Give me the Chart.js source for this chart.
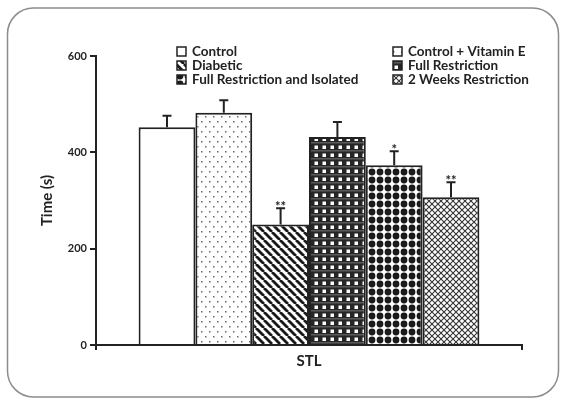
<!DOCTYPE html>
<html>
<head>
<meta charset="utf-8">
<script src="https://cdn.jsdelivr.net/npm/chart.js@4"></script>
<style>
  body { margin: 0; background: #fff; }
  #wrap { width: 564px; height: 400px; position: relative; }
</style>
</head>
<body>
<div id="wrap"><canvas id="myChart"></canvas></div>
<script>
const categories = ["STL"];
const groups = [
  "Control",
  "Control + Vitamin E",
  "Diabetic",
  "Full Restriction",
  "Full Restriction and Isolated",
  "2 Weeks Restriction",
];
const means = [452, 482, 250, 432, 373, 307];
const errors = [24, 26, 34, 31, 29, 31];
const marks = ["", "", "**", "", "*", "**"];
const yTicks = [0, 200, 400, 600];

const ink = "#222";

// small canvas tiles used as bar fills
function tile(w, h, draw) {
  const c = document.createElement("canvas");
  c.width = w;
  c.height = h;
  const g = c.getContext("2d");
  draw(g, w, h);
  return g.createPattern(c, "repeat");
}

const fills = [
  "#ffffff",
  tile(8, 10, (g) => {
    g.fillStyle = "#fff";
    g.fillRect(0, 0, 8, 10);
    g.fillStyle = "#6a6a6a";
    g.fillRect(1, 1, 1.5, 1.5);
    g.fillRect(5, 6, 1.5, 1.5);
  }),
  tile(8, 8, (g) => {
    g.fillStyle = "#fff";
    g.fillRect(0, 0, 8, 8);
    g.strokeStyle = "#1a1a1a";
    g.lineWidth = 2.8;
    for (let k = -8; k <= 16; k += 8) {
      g.beginPath();
      g.moveTo(k, 0);
      g.lineTo(k + 8, 8);
      g.stroke();
    }
  }),
  tile(8, 8, (g) => {
    g.fillStyle = "#262626";
    g.fillRect(0, 0, 8, 8);
    g.fillStyle = "#5c5c5c";
    g.fillRect(0, 6, 8, 1.5);
    g.fillStyle = "#fff";
    g.fillRect(2.5, 1.5, 3.5, 3.5);
  }),
  tile(8, 8, (g) => {
    g.fillStyle = "#fff";
    g.fillRect(0, 0, 8, 8);
    g.fillStyle = "#1a1a1a";
    g.beginPath();
    g.arc(4, 4, 3.4, 0, Math.PI * 2);
    g.fill();
  }),
  tile(6, 6, (g) => {
    g.fillStyle = "#fff";
    g.fillRect(0, 0, 6, 6);
    g.strokeStyle = "#333";
    g.lineWidth = 1.1;
    g.beginPath();
    g.moveTo(0, 0);
    g.lineTo(6, 6);
    g.moveTo(6, 0);
    g.lineTo(0, 6);
    g.stroke();
  }),
];

const framePlugin = {
  id: "frame",
  beforeDraw(chart) {
    const ctx = chart.ctx;
    ctx.save();
    ctx.fillStyle = "#fff";
    ctx.fillRect(0, 0, chart.width, chart.height);
    ctx.strokeStyle = "#8c8c8c";
    ctx.lineWidth = 1.5;
    ctx.beginPath();
    ctx.roundRect(7.5, 8, 551, 389, 26);
    ctx.stroke();
    ctx.restore();
  },
};

const errorPlugin = {
  id: "errors",
  afterDatasetsDraw(chart) {
    const ctx = chart.ctx;
    const y = chart.scales.y;
    ctx.save();
    ctx.strokeStyle = ink;
    ctx.lineWidth = 2;
    ctx.fillStyle = ink;
    ctx.font = "bold 13px Lato";
    ctx.textAlign = "center";
    ctx.textBaseline = "alphabetic";
    chart.data.datasets.forEach((ds, i) => {
      const bar = chart.getDatasetMeta(i).data[0];
      const top = y.getPixelForValue(means[i] + errors[i]);
      ctx.beginPath();
      ctx.moveTo(bar.x, bar.y);
      ctx.lineTo(bar.x, top);
      ctx.moveTo(bar.x - 4.5, top);
      ctx.lineTo(bar.x + 4.5, top);
      ctx.stroke();
      if (marks[i]) ctx.fillText(marks[i], bar.x, top + 3);
    });
    ctx.restore();
  },
};

const legendPlugin = {
  id: "boxLegend",
  afterDraw(chart) {
    const ctx = chart.ctx;
    const colX = [177, 393];
    const rowY = [52, 66, 80];
    ctx.save();
    ctx.font = "bold 13.5px Lato";
    ctx.textBaseline = "middle";
    groups.forEach((name, i) => {
      const x = colX[i % 2];
      const yy = rowY[Math.floor(i / 2)];
      ctx.fillStyle = fills[i];
      ctx.fillRect(x, yy - 5, 9, 9);
      ctx.strokeStyle = ink;
      ctx.lineWidth = 1.5;
      ctx.strokeRect(x, yy - 5, 9, 9);
      ctx.fillStyle = ink;
      ctx.fillText(name, x + 15, yy);
    });
    ctx.restore();
  },
};

const data = {
  labels: categories,
  datasets: groups.map((name, i) => ({
    label: name,
    data: [means[i]],
    backgroundColor: fills[i],
    borderColor: ink,
    borderWidth: 2,
  })),
};

const config = {
  type: "bar",
  data: data,
  options: {
    responsive: true,
    maintainAspectRatio: false,
    animation: false,
    categoryPercentage: 0.8,
    barPercentage: 1.0,
    layout: {
      padding: { top: 56, right: 42, bottom: 0, left: 0 },
    },
    scales: {
      x: {
        afterFit: (scale) => {
          scale.height = 55;
        },
        grid: {
          drawOnChartArea: false,
          tickLength: 5,
          color: ink,
          lineWidth: 2,
        },
        border: { color: ink, width: 2 },
        ticks: {
          font: { family: "Lato", size: 15, weight: "bold" },
          color: ink,
          padding: 2,
        },
      },
      y: {
        min: 0,
        max: 600,
        afterFit: (scale) => {
          scale.width = 96;
        },
        afterBuildTicks: (scale) => {
          scale.ticks = yTicks.map((v) => ({ value: v }));
        },
        grid: {
          drawOnChartArea: false,
          tickLength: 6,
          color: ink,
          lineWidth: 2,
        },
        border: { color: ink, width: 2 },
        ticks: {
          font: { family: "Lato", size: 11, weight: "bold" },
          color: ink,
          padding: 3,
        },
        title: {
          display: true,
          text: "Time (s)",
          font: { family: "Lato", size: 15, weight: "bold" },
          color: ink,
          padding: { top: 38, bottom: 0 },
        },
      },
    },
    plugins: {
      legend: { display: false },
      tooltip: { enabled: false },
    },
  },
  plugins: [framePlugin, errorPlugin, legendPlugin],
};

const myChart = new Chart(document.getElementById("myChart").getContext("2d"), config);
</script>
</body>
</html>
